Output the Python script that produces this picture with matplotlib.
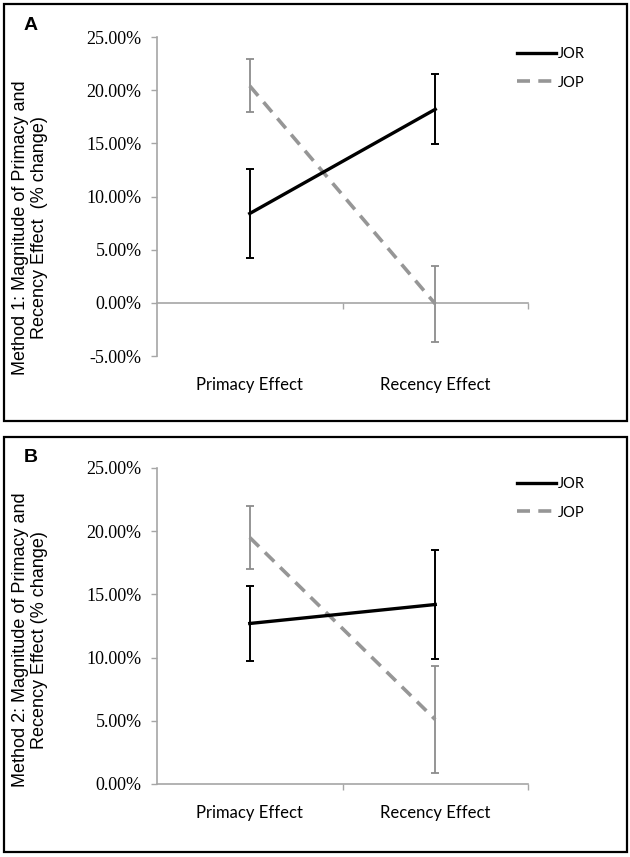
import matplotlib.pyplot as plt
from matplotlib.patches import Rectangle
from matplotlib.ticker import FuncFormatter

# categories on the x axis
categories = ['Primacy Effect', 'Recency Effect']
series_names = ['JOR', 'JOP']

# Panel A (Method 1), values in % change
a_jor = [8.4, 18.2]
a_jor_err = [4.2, 3.3]
a_jop = [20.4, -0.1]
a_jop_err = [2.5, 3.6]

# Panel B (Method 2)
b_jor = [12.7, 14.2]
b_jor_err = [2.95, 4.35]
b_jop = [19.5, 5.1]
b_jop_err = [2.5, 4.2]

a_yticks = [-5, 0, 5, 10, 15, 20, 25]
b_yticks = [0, 5, 10, 15, 20, 25]

NUM_FONT = ['Liberation Serif', 'DejaVu Serif']
CAT_FONT = ['Lato', 'Liberation Sans', 'DejaVu Sans']
LABEL_FONT = ['Liberation Sans', 'DejaVu Sans']
AXIS_GREY = '#a6a6a6'
JOP_GREY = '#969696'

W, H = 630, 857
fig = plt.figure(figsize=(W / 100, H / 100), dpi=100)


def px_rect(left, top, right, bottom):
    """figure fraction rect from pixel edges"""
    return [left / W, 1 - bottom / H, (right - left) / W, (bottom - top) / H]


def draw_panel(rect, jor, jor_err, jop, jop_err, yticks, leg_top):
    ax = fig.add_axes(rect)
    x = list(range(len(categories)))

    ax.errorbar(x, jop, yerr=jop_err, color=JOP_GREY, lw=2.6, dashes=(3.6, 2.3),
                ecolor='#8c8c8c', elinewidth=1.3, capsize=3, capthick=1.3,
                label=series_names[1], zorder=3)
    ax.errorbar(x, jor, yerr=jor_err, color='black', lw=2.4,
                ecolor='black', elinewidth=1.4, capsize=3, capthick=1.4,
                label=series_names[0], zorder=4)

    ymin, ymax = yticks[0], yticks[-1]
    ax.set_xlim(-0.5, len(categories) - 0.5)
    ax.set_ylim(ymin, ymax)
    ax.set_yticks(yticks)
    ax.yaxis.set_major_formatter(FuncFormatter(lambda v, p: f'{v:.2f}%'))
    ax.set_xticks(x)
    ax.set_xticklabels(categories)

    for s in ['top', 'right', 'bottom']:
        ax.spines[s].set_visible(False)
    ax.spines['left'].set_color(AXIS_GREY)
    ax.spines['left'].set_linewidth(1.2)
    ax.tick_params(axis='y', direction='out', length=4, width=1.0,
                   color=AXIS_GREY, pad=7, labelsize=13)
    ax.tick_params(axis='x', length=0, pad=15, labelsize=12)
    for lab in ax.get_yticklabels():
        lab.set_family(NUM_FONT)
    for lab in ax.get_xticklabels():
        lab.set_family(CAT_FONT)

    # category axis crossing at zero, like the spreadsheet default
    zero_loc = (0 - ymin) / (ymax - ymin)
    sec = ax.secondary_xaxis(zero_loc)
    sec.set_xticks([i + 0.5 for i in x])
    sec.set_xticklabels([])
    sec.tick_params(direction='out', length=4, width=1.0, color=AXIS_GREY)
    sec.spines['bottom'].set_color(AXIS_GREY)
    sec.spines['bottom'].set_linewidth(1.2)

    handles, labels = ax.get_legend_handles_labels()
    order = [labels.index(n) for n in series_names]
    ax.legend([handles[i][0] for i in order], [labels[i] for i in order],
              loc='upper left', bbox_to_anchor=(517 / W, 1 - leg_top / H),
              bbox_transform=fig.transFigure, frameon=False,
              handlelength=2.7, handletextpad=0.1, labelspacing=1.0,
              borderpad=0, borderaxespad=0,
              prop={'family': CAT_FONT, 'size': 10.5})
    return ax


draw_panel(px_rect(157, 37, 528, 356), a_jor, a_jor_err, a_jop, a_jop_err,
           a_yticks, 47)
draw_panel(px_rect(157, 468, 528, 784), b_jor, b_jor_err, b_jop, b_jop_err,
           b_yticks, 477)

# y axis titles
fig.text(30 / W, 1 - 228 / H, 'Method 1: Magnitude of Primacy and\nRecency Effect  (% change)',
         rotation=90, ha='center', va='center', multialignment='center',
         fontsize=13, family=LABEL_FONT, linespacing=1.2)
fig.text(30 / W, 1 - 640 / H, 'Method 2: Magnitude of Primacy and\nRecency Effect (% change)',
         rotation=90, ha='center', va='center', multialignment='center',
         fontsize=13, family=LABEL_FONT, linespacing=1.2)

# panel letters
fig.text(31 / W, 1 - 26 / H, 'A', ha='center', va='center', fontsize=14,
         fontweight='bold', family=LABEL_FONT)
fig.text(31 / W, 1 - 458 / H, 'B', ha='center', va='center', fontsize=14,
         fontweight='bold', family=LABEL_FONT)

# panel borders
for top, bottom in [(4, 421), (437, 852)]:
    fig.add_artist(Rectangle((4 / W, 1 - bottom / H), 623 / W, (bottom - top) / H,
                             transform=fig.transFigure, fill=False,
                             edgecolor='black', lw=1.6))

fig.savefig('out.png', dpi=100)
